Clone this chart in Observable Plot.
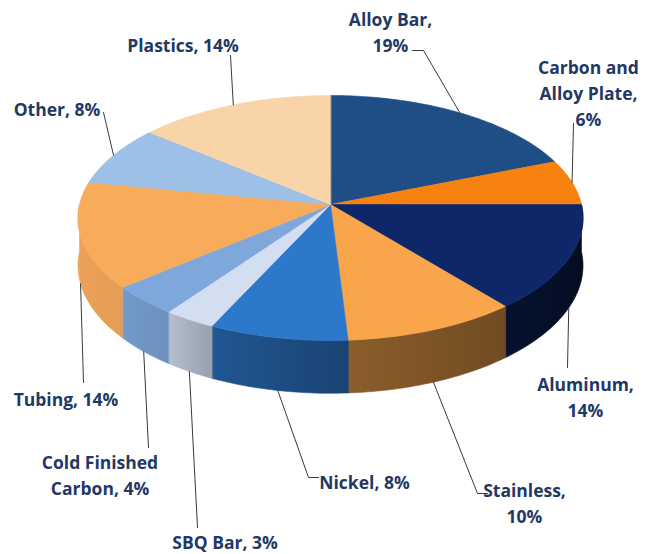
<!DOCTYPE html>
<html><head><meta charset="utf-8">
<script src="https://cdn.jsdelivr.net/npm/d3@7"></script>
<script src="https://cdn.jsdelivr.net/npm/@observablehq/plot@0.6"></script>
<style>body{margin:0;background:#fff}</style>
</head><body><div id="chart"></div>
<script>
// ---- data ----
const categories = ["Alloy Bar","Carbon and Alloy Plate","Aluminum","Stainless","Nickel","SBQ Bar","Cold Finished Carbon","Tubing","Other","Plastics"];
const shares = [19,6,14,10,8,3,4,14,8,14];
const labelTexts = ["Alloy Bar,\n19%","Carbon and\nAlloy Plate,\n6%","Aluminum,\n14%","Stainless,\n10%","Nickel, 8%","SBQ Bar, 3%","Cold Finished\nCarbon, 4%","Tubing, 14%","Other, 8%","Plastics, 14%"];
const colors = ["#1f4d86","#f7820f","#0d2768","#f8a54c","#2e78cc","#d3def0","#7ea8dc","#f9ab5c","#9dc0e6","#f9d4a8"];

// ---- layout ----
const W = 652, H = 554;
const pie = {cx:330, cy:204, R:251, Ry:121, k:0.11, depth:47};
const labelPos = [[390,30.5],[588,91],[585,395.5],[524,501],[364,480],[224.5,540],[99.5,473.5],[65.5,397],[56.5,107],[182.5,43]];
const leaderEnds = [[[423,50],[412,50]],[[573,123]],[[567,367]],[[477,493],[487,493]],[[308,477],[318,477]],[[197,527]],[[148,447]],[[83,382]],[[103,112]],[[230,55]]];
// side shading (darkness vs angle, front half of the cylinder)
const shade = d3.scaleLinear().domain([270,230,216,205,176,140,90]).range([0.04,0.08,0.14,0.28,0.44,0.55,0.75]).clamp(true);

const rad = d => d*Math.PI/180;
function pt(deg, drop=0){
  const t = rad(deg), c = Math.cos(t), s = 1/(1 + pie.k*c);
  return [pie.cx + pie.R*Math.sin(t)*s, pie.cy - pie.Ry*c*s + drop*s];
}
const total = d3.sum(shares);
let cum = 0;
const slices = shares.map((v,i)=>{const a0=360*cum/total; cum+=v; const a1=360*cum/total; return {i,a0,a1,mid:(a0+a1)/2};});

const topRows = [], sideRows = [], leaderRows = [], grads = [];
for (const s of slices){
  const id = "t"+s.i;
  topRows.push({id, x:pie.cx, y:pie.cy, fill:colors[s.i]});
  const n = Math.max(2, Math.ceil(s.a1-s.a0));
  for (let k=0;k<=n;k++){const [x,y]=pt(s.a0+(s.a1-s.a0)*k/n); topRows.push({id,x,y,fill:colors[s.i]});}
  const lo = Math.max(s.a0,90), hi = Math.min(s.a1,270);
  if (hi>lo){
    const gid = "sideGrad"+s.i, f = `url(#${gid})`;
    const m = Math.max(2, Math.ceil(hi-lo));
    const angs = d3.range(m+1).map(k=>lo+(hi-lo)*k/m);
    for (const a of angs){const [x,y]=pt(a); sideRows.push({id:"s"+s.i,x,y,fill:f});}
    for (const a of angs.slice().reverse()){const [x,y]=pt(a,pie.depth); sideRows.push({id:"s"+s.i,x,y,fill:f});}
    const xs = angs.map(a=>pt(a)[0]);
    const x1 = d3.min(xs), x2 = d3.max(xs);
    const stops = angs.map((a,j)=>({o:(xs[j]-x1)/(x2-x1), c:d3.interpolateRgb(colors[s.i],"#000")(shade(a))})).sort((p,q)=>p.o-q.o);
    grads.push({gid,x1,x2,stops});
  }
  const front = s.mid>90 && s.mid<270;
  const [ax,ay] = pt(s.mid, front?pie.depth:0);
  leaderRows.push({id:"l"+s.i,x:ax,y:ay});
  for (const [x,y] of leaderEnds[s.i]) leaderRows.push({id:"l"+s.i,x,y});
}
const labelRows = slices.map(s=>({x:labelPos[s.i][0], y:labelPos[s.i][1], text:labelTexts[s.i]}));

const chart = Plot.plot({
  width: W, height: H, margin: 0,
  x: {domain:[0,W], range:[0,W], axis:null},
  y: {domain:[0,H], range:[0,H], axis:null},
  color: {type:"identity"},
  style: {background:"#fff"},
  marks: [
    Plot.line(sideRows, {x:"x", y:"y", z:"id", fill:"fill", stroke:"fill", strokeWidth:0.6, curve:"linear-closed"}),
    Plot.line(topRows, {x:"x", y:"y", z:"id", fill:"fill", stroke:"fill", strokeWidth:0.6, curve:"linear-closed"}),
    Plot.line(leaderRows, {x:"x", y:"y", z:"id", stroke:"#3a3a3a", strokeWidth:1}),
    Plot.text(labelRows, {x:"x", y:"y", text:"text", textAnchor:"middle", lineAnchor:"middle", lineHeight:1.48,
      fontSize:17.5, fontWeight:"bold", fontFamily:"Open Sans", fill:"#1f3864"})
  ]
});
// gradient definitions for the cylinder wall
const defs = d3.select(chart).insert("defs", ":first-child");
for (const g of grads){
  const lg = defs.append("linearGradient").attr("id", g.gid).attr("gradientUnits","userSpaceOnUse")
    .attr("x1", g.x1).attr("x2", g.x2).attr("y1", 0).attr("y2", 0);
  for (const st of g.stops) lg.append("stop").attr("offset", st.o).attr("stop-color", st.c);
}
document.getElementById("chart").appendChild(chart);
</script>
</body></html>
